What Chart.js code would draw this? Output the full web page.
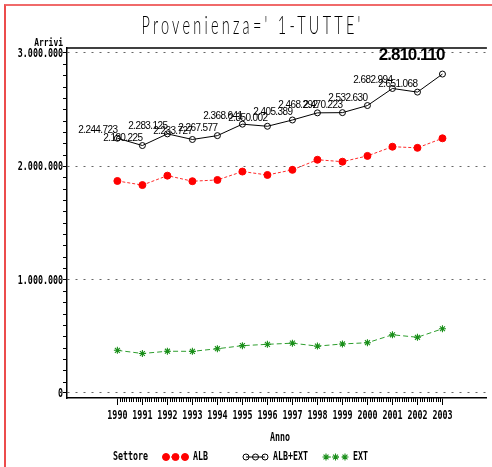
<!DOCTYPE html>
<html>
<head>
<meta charset="utf-8">
<script src="https://cdn.jsdelivr.net/npm/chart.js@4.4.1/dist/chart.umd.min.js"></script>
<style>
  html, body { margin: 0; padding: 0; background: #fff; }
  #wrap { position: relative; width: 492px; height: 467px; overflow: hidden; background: #fff; }
  #frame { position: absolute; left: 4px; top: 4px; width: 700px; height: 700px;
           border-left: 2px solid #ec4c4c; border-top: 2px solid #f06a6a; }
  #title { position: absolute; left: 7px; top: 12px; width: 492px; text-align: center;
           font-family: "Lato", "Liberation Sans", sans-serif; font-weight: 300;
           font-size: 25px; line-height: 25px; color: #000; white-space: pre; }
  #title span { display: inline-block; transform: scaleX(0.58); transform-origin: 50% 50%; letter-spacing: 5.6px; }
  canvas { position: absolute; left: 0; top: 0; }
</style>
</head>
<body>
<div id="wrap">
  <canvas id="c" width="492" height="467"></canvas>
  <div id="frame"></div>
  <div id="title"><span>Provenienza=' 1-TUTTE'</span></div>
</div>
<script>
// ---- data ----
const years = [1990, 1991, 1992, 1993, 1994, 1995, 1996, 1997, 1998, 1999, 2000, 2001, 2002, 2003];
const albValues = [1868000, 1832000, 1915000, 1866000, 1877000, 1951000, 1921000, 1966000, 2055000, 2038000, 2089000, 2170000, 2160000, 2244000];
const albExtValues = [2244723, 2180225, 2283125, 2233727, 2267577, 2368641, 2350002, 2405389, 2468292, 2470223, 2532630, 2682994, 2651068, 2810110];
const extValues = [376000, 348000, 368000, 367000, 390000, 417000, 429000, 439000, 413000, 432000, 443000, 513000, 491000, 566000];
const seriesNames = ['ALB', 'ALB+EXT', 'EXT'];
const yTickValues = [0, 1000000, 2000000, 3000000];
const legendTitle = 'Settore';
const xTitle = 'Anno';
const yTitle = 'Arrivi';

// ---- helpers ----
const fmt = v => String(Math.round(v)).replace(/\B(?=(\d{3})+(?!\d))/g, '.');
const toXY = vals => vals.map((v, i) => ({ x: years[i], y: v }));
const MONO_FAMILY = '"DejaVu Sans Mono", "Liberation Mono", monospace';

function condensedText(ctx, text, x, y, align, size, sx) {
  size = size || 12.5;
  sx = sx || 0.667;
  ctx.save();
  ctx.translate(x, y);
  ctx.scale(sx, 1);
  ctx.font = 'bold ' + size + 'px ' + MONO_FAMILY;
  ctx.fillStyle = '#000';
  ctx.textAlign = align;
  ctx.textBaseline = 'middle';
  ctx.fillText(text, 0, 0);
  ctx.restore();
}

const MINOR_X = 11;
const MINOR_Y_STEP = 100000;

const decorations = {
  id: 'decorations',
  afterDraw(chart) {
    const { ctx, chartArea, scales: { x, y } } = chart;
    ctx.save();
    // top frame line of plot
    ctx.strokeStyle = '#000';
    ctx.lineWidth = 1.5;
    ctx.beginPath();
    ctx.moveTo(chartArea.left, chartArea.top);
    ctx.lineTo(chartArea.right, chartArea.top);
    ctx.stroke();
    // minor ticks
    ctx.lineWidth = 1;
    ctx.beginPath();
    for (let v = MINOR_Y_STEP; v < yTickValues[yTickValues.length - 1]; v += MINOR_Y_STEP) {
      if (v % 1000000 === 0) continue;
      const py = Math.round(y.getPixelForValue(v)) + 0.5;
      ctx.moveTo(y.right - 4, py);
      ctx.lineTo(y.right, py);
    }
    for (let i = 0; i < years.length - 1; i++) {
      for (let k = 1; k < MINOR_X; k++) {
        const px = Math.round(x.getPixelForValue(years[i] + k / MINOR_X)) + 0.5;
        ctx.moveTo(px, x.top);
        ctx.lineTo(px, x.top + 4);
      }
    }
    ctx.stroke();
    ctx.restore();

    // axis tick labels (from the scales' own ticks)
    y.ticks.forEach((t, i) => condensedText(ctx, t.label, y.right - 4, y.getPixelForTick(i) + 1, 'right'));
    x.ticks.forEach((t, i) => condensedText(ctx, t.label, x.getPixelForTick(i), x.top + 18, 'center'));
    // axis titles
    condensedText(ctx, xTitle, (chartArea.left + chartArea.right) / 2 + 3, x.top + 40, 'center');
    condensedText(ctx, yTitle, y.right - 4, chartArea.top - 5, 'right', 10.5, 0.76);

    // legend
    const ly = 457;
    condensedText(ctx, legendTitle, 113, ly, 'left');
    chart.data.datasets.forEach((ds, i) => {
      const x0 = 163 + i * 80;
      ctx.save();
      ctx.strokeStyle = ds.borderColor;
      ctx.lineWidth = ds.borderWidth;
      ctx.setLineDash(ds.borderDash || []);
      ctx.beginPath();
      ctx.moveTo(x0 + 3, ly);
      ctx.lineTo(x0 + 22, ly);
      ctx.stroke();
      ctx.setLineDash([]);
      ctx.fillStyle = ds.pointBackgroundColor;
      ctx.strokeStyle = ds.pointBorderColor;
      ctx.lineWidth = ds.pointBorderWidth;
      [3, 12.5, 22].forEach(dx => Chart.helpers.drawPoint(ctx,
        { pointStyle: ds.pointStyle, radius: ds.pointRadius, rotation: 0, borderWidth: ds.pointBorderWidth },
        x0 + dx, ly));
      ctx.restore();
      condensedText(ctx, ds.label, x0 + 30, ly, 'left');
    });
  }
};

const valueLabels = {
  id: 'valueLabels',
  afterDatasetsDraw(chart) {
    const ctx = chart.ctx;
    const meta = chart.getDatasetMeta(1);
    ctx.save();
    ctx.fillStyle = '#000';
    ctx.textAlign = 'right';
    ctx.textBaseline = 'alphabetic';
    meta.data.forEach((pt, i) => {
      const last = i === meta.data.length - 1;
      if (last) {
        ctx.font = 'bold 17px "Liberation Sans", Arial, sans-serif';
        ctx.letterSpacing = '-1px';
        ctx.fillText(fmt(albExtValues[i]), pt.x + 2, pt.y - 14.5);
      } else {
        ctx.font = '10px "Liberation Sans", Arial, sans-serif';
        ctx.letterSpacing = '-0.6px';
        ctx.fillText(fmt(albExtValues[i]), pt.x, pt.y - 5);
      }
    });
    ctx.restore();
  }
};

new Chart(document.getElementById('c'), {
  type: 'line',
  data: {
    datasets: [
      {
        label: seriesNames[0], data: toXY(albValues),
        borderColor: '#ff2a2a', borderWidth: 1, borderDash: [3, 2],
        pointStyle: 'circle', pointRadius: 3.5, pointBackgroundColor: '#ff0000',
        pointBorderColor: '#ff0000', pointBorderWidth: 1
      },
      {
        label: seriesNames[1], data: toXY(albExtValues),
        borderColor: '#000000', borderWidth: 1,
        pointStyle: 'circle', pointRadius: 3, pointBackgroundColor: 'rgba(255,255,255,0)',
        pointBorderColor: '#000000', pointBorderWidth: 1
      },
      {
        label: seriesNames[2], data: toXY(extValues),
        borderColor: '#2e9e2e', borderWidth: 1, borderDash: [5, 3],
        pointStyle: 'star', pointRadius: 3.5, pointBackgroundColor: '#1a8f1a',
        pointBorderColor: '#1a8f1a', pointBorderWidth: 1.1
      }
    ]
  },
  options: {
    responsive: false,
    animation: false,
    devicePixelRatio: 1,
    layout: { padding: { top: 48, right: 0, bottom: 21, left: 0 } },
    elements: { line: { tension: 0 } },
    plugins: { legend: { display: false }, title: { display: false }, tooltip: { enabled: false } },
    scales: {
      x: {
        type: 'linear',
        min: 1987.985, max: 2004.777,
        afterBuildTicks: s => { s.ticks = years.map(v => ({ value: v })); },
        afterFit: s => { s.height = 48; },
        ticks: { display: false, callback: v => String(v), autoSkip: false, maxRotation: 0 },
        grid: { drawOnChartArea: false, tickLength: 7, tickColor: '#000', color: '#000', lineWidth: 1 },
        border: { color: '#000', width: 1.5 }
      },
      y: {
        min: -44053, max: 3039648,
        afterBuildTicks: s => { s.ticks = yTickValues.map(v => ({ value: v })); },
        afterFit: s => { s.width = 67; },
        ticks: { display: false, callback: v => fmt(v) },
        grid: { color: '#666', lineWidth: 1, tickLength: 4, tickColor: '#000' },
        border: { color: '#000', width: 1.5, dash: [2, 6] }
      }
    }
  },
  plugins: [valueLabels, decorations]
});
</script>
</body>
</html>
